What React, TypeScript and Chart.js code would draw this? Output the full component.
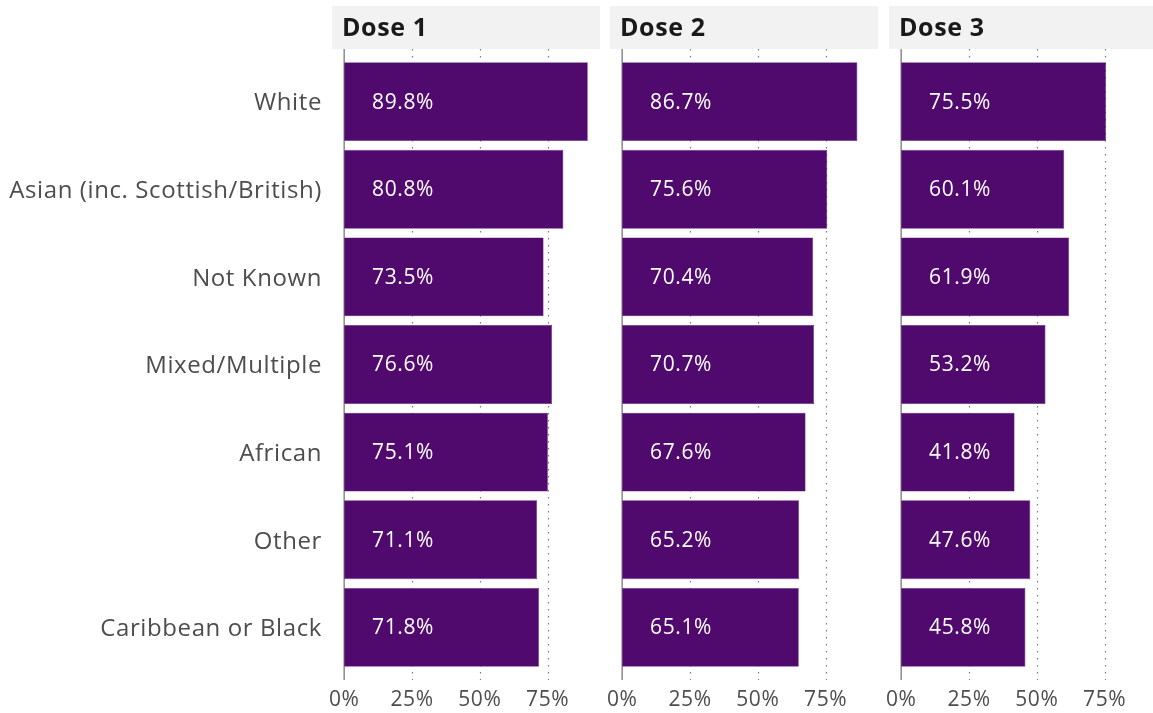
import React, { useEffect, useRef } from "react";
import { Chart, registerables } from "chart.js";

Chart.register(...registerables);

const categories = [
  "White",
  "Asian (inc. Scottish/British)",
  "Not Known",
  "Mixed/Multiple",
  "African",
  "Other",
  "Caribbean or Black",
];
const dose1 = [89.8, 80.8, 73.5, 76.6, 75.1, 71.1, 71.8];
const dose2 = [86.7, 75.6, 70.4, 70.7, 67.6, 65.2, 65.1];
const dose3 = [75.5, 60.1, 61.9, 53.2, 41.8, 47.6, 45.8];
const panelTitles = ["Dose 1", "Dose 2", "Dose 3"];
const xTicks = [0, 25, 50, 75];
const gridValues = [25, 50, 75];

const FONT = "'Open Sans', sans-serif";
const PURPLE = "#500a6e";
const TEXT = "#4d4d4d";
const X_MIN = -4.49;
const X_MAX = 94.29;
const LABEL_X = 21.7;
const H = 713;
const SPACING = "0.6px";

type PanelProps = {
  values: number[];
  title: string;
  showLabels: boolean;
  left: number;
  width: number;
  padLeft: number;
};

function Panel({ values, title, showLabels, left, width, padLeft }: PanelProps) {
  const ref = useRef<HTMLCanvasElement | null>(null);
  useEffect(() => {
    if (!ref.current) return;
    const panelPlugin = {
      id: "panelDeco",
      beforeDraw(chart: any) {
        (chart.ctx as any).letterSpacing = SPACING;
      },
      beforeDatasetsDraw(chart: any) {
        const { ctx, chartArea, scales } = chart;
        const x = scales.x;
        ctx.save();
        ctx.fillStyle = "#f2f2f2";
        ctx.fillRect(chartArea.left, 6, chartArea.right - chartArea.left, 43);
        ctx.fillStyle = "#1a1a1a";
        ctx.font = `bold 25px ${FONT}`;
        ctx.textAlign = "left";
        ctx.textBaseline = "middle";
        ctx.fillText(title, chartArea.left + 10, 29);
        ctx.strokeStyle = "#7a7a7a";
        ctx.lineWidth = 1.2;
        ctx.setLineDash([1.5, 5.5]);
        for (const g of gridValues) {
          const px = Math.round(x.getPixelForValue(g)) + 0.5;
          ctx.beginPath();
          ctx.moveTo(px, chartArea.top);
          ctx.lineTo(px, chartArea.bottom);
          ctx.stroke();
        }
        ctx.setLineDash([]);
        ctx.strokeStyle = "#8a8a8a";
        ctx.lineWidth = 1.5;
        const zx = x.getPixelForValue(0);
        ctx.beginPath();
        ctx.moveTo(zx, chartArea.top);
        ctx.lineTo(zx, chartArea.bottom);
        ctx.stroke();
        ctx.restore();
      },
      afterDatasetsDraw(chart: any) {
        const { ctx, scales } = chart;
        ctx.save();
        ctx.fillStyle = "#ffffff";
        ctx.font = `21px ${FONT}`;
        ctx.textAlign = "center";
        ctx.textBaseline = "middle";
        values.forEach((v, i) => {
          ctx.fillText(
            `${v.toFixed(1)}%`,
            scales.x.getPixelForValue(LABEL_X),
            scales.y.getPixelForValue(i) + 1
          );
        });
        ctx.restore();
      },
      afterDraw(chart: any) {
        (chart.ctx as any).letterSpacing = "0px";
      },
    };
    const chart = new Chart(ref.current, {
      type: "bar",
      data: {
        datasets: [
          {
            data: values.map((v, i) => ({ x: v, y: i })),
            backgroundColor: PURPLE,
            borderColor: "#6a2a86",
            borderWidth: 0.6,
            categoryPercentage: 0.9,
            barPercentage: 1,
          } as any,
        ],
      },
      options: {
        indexAxis: "y",
        animation: false,
        responsive: false,
        events: [],
        layout: { padding: { top: 49, left: padLeft, right: 5, bottom: 0 } },
        plugins: { legend: { display: false }, tooltip: { enabled: false } },
        scales: {
          x: {
            type: "linear",
            min: X_MIN,
            max: X_MAX,
            offset: false,
            afterBuildTicks: (s: any) => {
              s.ticks = xTicks.map((v) => ({ value: v }));
            },
            afterFit: (s: any) => {
              s.height = 33;
              s.paddingLeft = 0;
              s.paddingRight = 0;
            },
            grid: { display: false, drawTicks: false },
            border: { display: false },
            ticks: {
              callback: (v: any) => `${v}%`,
              color: TEXT,
              font: { family: FONT, size: 21 },
              padding: 7,
              maxRotation: 0,
              autoSkip: false,
            },
          },
          y: {
            type: "linear",
            reverse: true,
            min: -0.6,
            max: 6.6,
            offset: false,
            display: showLabels,
            afterBuildTicks: (s: any) => {
              s.ticks = categories.map((_, i) => ({ value: i }));
            },
            afterFit: (s: any) => {
              if (showLabels) s.width = 332;
            },
            grid: { display: false, drawTicks: false, offset: false },
            border: { display: false },
            ticks: {
              callback: (v: any) => categories[v as number],
              color: TEXT,
              font: { family: FONT, size: 24 },
              padding: 10,
              labelOffset: 2,
              autoSkip: false,
            },
          },
        },
      } as any,
      plugins: [panelPlugin],
    });
    return () => chart.destroy();
  }, [values, title, showLabels, padLeft]);
  return (
    <canvas
      ref={ref}
      width={width}
      height={H}
      style={{ position: "absolute", left, top: 0, width, height: H }}
    />
  );
}

export default function App() {
  return (
    <div
      style={{
        position: "absolute",
        left: 0,
        top: 0,
        width: 1153,
        height: H,
        overflow: "hidden",
        background: "#ffffff",
      }}
    >
      <Panel values={dose1} title={panelTitles[0]} showLabels={true} left={0} width={605} padLeft={0} />
      <Panel values={dose2} title={panelTitles[1]} showLabels={false} left={605} width={278} padLeft={5} />
      <Panel values={dose3} title={panelTitles[2]} showLabels={false} left={884} width={278} padLeft={5} />
    </div>
  );
}
